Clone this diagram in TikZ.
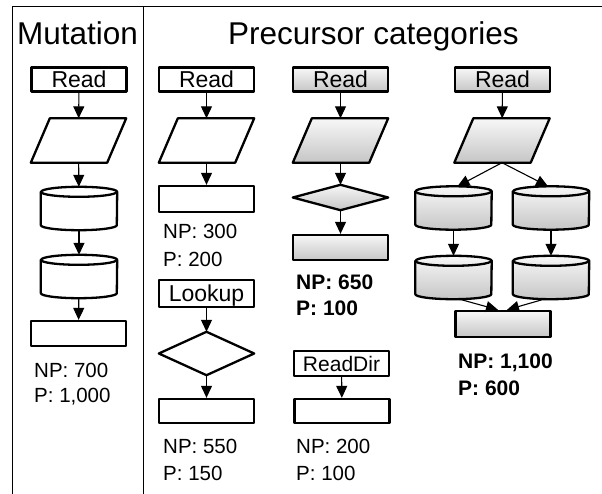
\documentclass[tikz,border=0pt]{standalone}
\usepackage{fontspec}
\setmainfont{Liberation Sans}
\usetikzlibrary{arrows.meta}
\tikzset{
  shd/.style={top color=gray!6, bottom color=gray!45},
  plain/.style={fill=white},
  shp/.style={draw, line width=2.3pt, line join=round, inner sep=0pt, minimum width=95pt},
  box/.style={shp, rectangle, minimum height=24pt, text height=16pt, text depth=0pt, font=\fontsize{23}{23}\selectfont},
  rbox/.style={shp, rectangle},
  ghost/.style={rectangle, draw=none, inner sep=0pt, minimum width=95pt},
  cylbox/.style={rectangle, draw=none, inner sep=0pt, minimum width=76pt, minimum height=43pt},
  outl/.style={draw, line width=2.3pt, line join=round},
  lbl/.style={inner sep=0pt, anchor=base west, font=\fontsize{20.5}{20.5}\selectfont},
  blbl/.style={lbl, font=\fontsize{21}{21}\selectfont\bfseries},
  ttl/.style={inner sep=0pt, anchor=base, font=\fontsize{31.5}{31.5}\selectfont},
  arr/.style={-{Triangle[length=12pt,width=11pt]}, line width=1.1pt},
  frame/.style={line width=1pt}
}
\newcommand\drawcyl[2]{%
  \path[#1, outl] ([yshift=-5pt]#2.north west) -- ([yshift=5pt]#2.south west)
    arc[start angle=180,end angle=360,x radius=38pt,y radius=5pt]
    -- ([yshift=-5pt]#2.north east)
    arc[start angle=0,end angle=180,x radius=38pt,y radius=5pt] -- cycle;
  \draw[line width=2.3pt] ([yshift=-5pt]#2.north west)
    arc[start angle=180,end angle=360,x radius=38pt,y radius=5pt];}
\newcommand\drawpara[2]{%
  \path[#1, outl] (#2.south west) -- ([xshift=-19pt]#2.south east) -- (#2.north east) -- ([xshift=19pt]#2.north west) -- cycle;}
\newcommand\drawdia[2]{%
  \path[#1, outl] (#2.north) -- (#2.east) -- (#2.south) -- (#2.west) -- cycle;}
\begin{document}
\begin{tikzpicture}[x=1pt,y=1pt]
\useasboundingbox (0,0) rectangle (602,-494);
% frame
\coordinate (fa) at (12,-494);
\coordinate (fb) at (12,-7);
\coordinate (fc) at (602,-7);
\coordinate (fd) at (143,-7);
\coordinate (fe) at (143,-494);
\draw[frame] (fa) -- (fb) -- (fc);
\draw[frame] (fd) -- (fe);
\node[ttl] (tm) at (77.5,-45) {Mutation};
\node[ttl] (tp) at (373.5,-45) {Precursor categories};

% column 1: mutation
\node[box, plain] (m1) at (79,-79.5) {Read};
\node[ghost, minimum height=44pt] (m2) at (78.5,-140.5) {};
\drawpara{plain}{m2}
\node[cylbox] (m3) at (79,-208.5) {};
\drawcyl{plain}{m3}
\node[cylbox] (m4) at (79,-276.5) {};
\drawcyl{plain}{m4}
\node[rbox, plain, minimum height=25pt] (m5) at (78.5,-333.5) {};
\node[lbl] (m6) at (34,-377) {NP: 700};
\node[lbl] (m7) at (34,-402) {P: 1,000};
\draw[arr] (m1) -- (m2);
\draw[arr] (m2) -- (m3);
\draw[arr] (m3) -- (m4);
\draw[arr] (m4) -- (m5);

% column 2
\node[box, plain] (a1) at (206.5,-79.5) {Read};
\node[ghost, minimum height=44pt] (a2) at (206.5,-140.5) {};
\drawpara{plain}{a2}
\node[rbox, plain, minimum height=26pt] (a3) at (206.5,-199) {};
\node[lbl] (a4) at (163,-239) {NP: 300};
\node[lbl] (a5) at (163,-266.5) {P: 200};
\node[box, plain, minimum height=27pt] (a6) at (206.5,-293.5) {Lookup};
\node[ghost, minimum height=43pt] (a7) at (206.5,-353.5) {};
\drawdia{plain}{a7}
\node[rbox, plain, minimum height=24pt] (a8) at (206.5,-411) {};
\node[lbl] (a9) at (163,-453) {NP: 550};
\node[lbl] (a10) at (163,-480) {P: 150};
\draw[arr] (a1) -- (a2);
\draw[arr] (a2) -- (a3);
\draw[arr] (a6) -- (a7);
\draw[arr] (a7) -- (a8);

% column 3
\node[box, shd] (b1) at (340.5,-79.5) {Read};
\node[ghost, minimum height=44pt] (b2) at (340.5,-140.5) {};
\drawpara{shd}{b2}
\node[ghost, minimum height=25pt] (b3) at (340.5,-197.5) {};
\drawdia{shd}{b3}
\node[rbox, shd, minimum height=25pt] (b4) at (340.5,-247.5) {};
\node[blbl] (b5) at (296,-290) {NP: 650};
\node[blbl] (b6) at (296,-315) {P: 100};
\node[box, plain, minimum height=25pt, font=\fontsize{21}{21}\selectfont, text height=15pt] (b7) at (341.5,-363.5) {ReadDir};
\node[rbox, plain, minimum height=24pt] (b8) at (342,-411) {};
\node[lbl] (b9) at (296,-453) {NP: 200};
\node[lbl] (b10) at (296,-480) {P: 100};
\draw[arr] (b1) -- (b2);
\draw[arr] (b2) -- (b3);
\draw[arr] (b3) -- (b4);
\draw[arr] (b7) -- (b8);

% column 4
\node[box, shd] (c1) at (502.5,-79.5) {Read};
\node[ghost, minimum height=44pt] (c2) at (502,-140.5) {};
\drawpara{shd}{c2}
\node[cylbox] (c3) at (453.5,-208) {};
\drawcyl{shd}{c3}
\node[cylbox] (c4) at (551,-208) {};
\drawcyl{shd}{c4}
\node[cylbox] (c5) at (453.5,-277.5) {};
\drawcyl{shd}{c5}
\node[cylbox] (c6) at (551,-277.5) {};
\drawcyl{shd}{c6}
\node[rbox, shd, minimum height=26pt] (c7) at (503,-324) {};
\node[blbl] (c8) at (458,-368) {NP: 1,100};
\node[blbl] (c9) at (458,-395) {P: 600};
\draw[arr] (c1) -- (c2);
\draw[arr] (c2.south) -- ([xshift=4pt]c3.north);
\draw[arr] (c2.south) -- ([xshift=-3pt]c4.north);
\draw[arr] (c3) -- (c5);
\draw[arr] (c4) -- (c6);
\draw[arr] ([xshift=6pt]c5.south) -- ([xshift=-5pt]c7.north);
\draw[arr] ([xshift=-7pt]c6.south) -- ([xshift=4pt]c7.north);
\end{tikzpicture}
\end{document}
